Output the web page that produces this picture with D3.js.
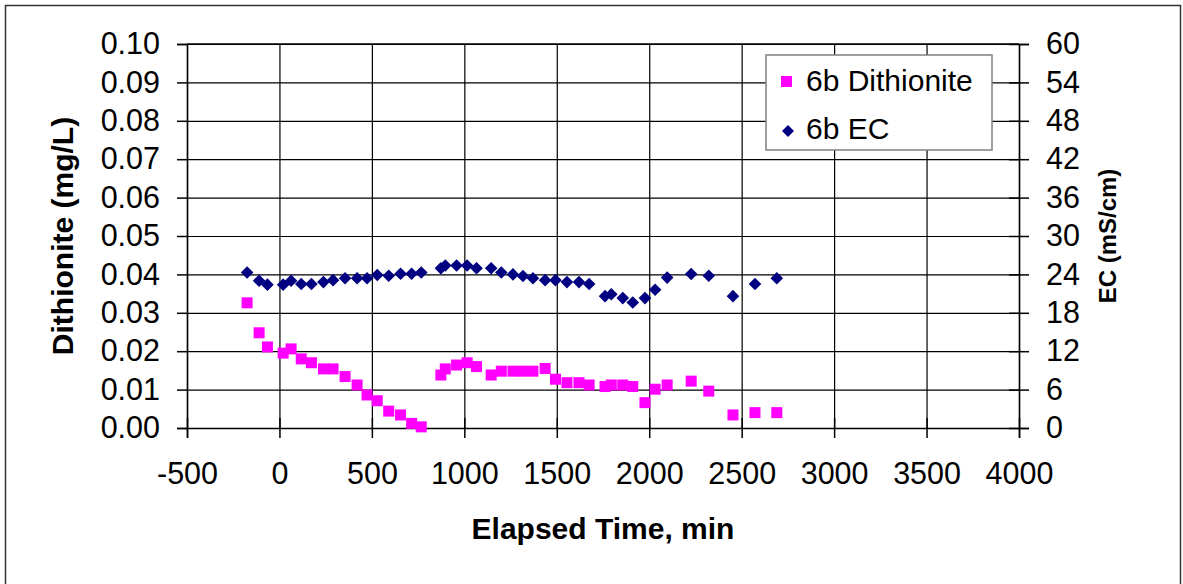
<!DOCTYPE html>
<html lang="en">
<head>
    <meta charset="UTF-8">
    <title>6b Dithionite and EC</title>
    <script src="https://d3js.org/d3.v7.min.js"></script>
    <style>
        body {
            margin: 0;
            background: white;
            font-family: "Liberation Sans", Arial, sans-serif;
        }
        .grid line {
            stroke: black;
            stroke-width: 1.2;
        }
        .axis path, .axis line {
            stroke: black;
            stroke-width: 1.5;
        }
        .axis text {
            font-size: 30.5px;
            fill: black;
        }
    </style>
</head>
<body>
    <svg id="chart"></svg>

    <script>
        // data
        const elapsedMin = [-175, -110, -65, 20, 63, 118, 173, 238, 290, 355, 420, 474, 529, 591, 655, 715, 767,
                            873, 897, 958, 1015, 1066, 1145, 1200, 1263, 1317, 1371, 1437, 1493, 1555, 1620, 1675,
                            1761, 1795, 1857, 1911, 1977, 2032, 2097, 2227, 2322, 2453, 2572, 2690];
        const dithionite = [0.0326, 0.0248, 0.0211, 0.0195, 0.0206, 0.018, 0.017, 0.0154, 0.0154, 0.0134, 0.0112,
                            0.0086, 0.0071, 0.0044, 0.0034, 0.0012, 0.0003,
                            0.0138, 0.0154, 0.0164, 0.017, 0.016, 0.0138, 0.0148, 0.0148, 0.0148, 0.0148, 0.0155,
                            0.0127, 0.0118, 0.0118, 0.0112, 0.0108, 0.0112, 0.0112, 0.0108, 0.0066, 0.0101, 0.0112,
                            0.0122, 0.0096, 0.0034, 0.004, 0.004];
        const ec = [24.3, 23.0, 22.4, 22.4, 23.0, 22.5, 22.5, 22.8, 23.1, 23.4, 23.4, 23.4, 23.9, 23.8, 24.1, 24.1, 24.3,
                    24.95, 25.4, 25.4, 25.4, 24.95, 24.95, 24.3, 24.0, 23.75, 23.4, 23.1, 23.1, 22.8, 22.8, 22.5,
                    20.6, 20.9, 20.3, 19.6, 20.3, 21.6, 23.5, 24.06, 23.8, 20.6, 22.5, 23.4];
        const xTicks = d3.range(-500, 4001, 500);
        const leftTicks = d3.range(0, 0.1001, 0.01);
        const rightTicks = d3.range(0, 61, 6);
        const seriesNames = ["6b Dithionite", "6b EC"];

        const width = 1183;
        const height = 584;
        const plot = { left: 187, right: 1019, top: 44, bottom: 428 };
        const magenta = "#ff00ff";
        const navy = "#000080";

        const svg = d3.select("#chart")
                      .attr("width", width)
                      .attr("height", height);

        // outer chart border
        svg.append("rect")
           .attr("x", 5.5).attr("y", 5.5)
           .attr("width", 1175).attr("height", 590)
           .attr("fill", "white")
           .attr("stroke", "#333")
           .attr("stroke-width", 1.5);

        // scales
        const x = d3.scaleLinear().domain([-500, 4000]).range([plot.left, plot.right]);
        const yLeft = d3.scaleLinear().domain([0, 0.1]).range([plot.bottom, plot.top]);
        const yRight = d3.scaleLinear().domain([0, 60]).range([plot.bottom, plot.top]);

        // gridlines
        svg.append("g")
           .attr("class", "grid")
           .attr("transform", `translate(0, ${plot.bottom})`)
           .call(d3.axisBottom(x).tickValues(xTicks).tickSize(-(plot.bottom - plot.top)).tickFormat(""))
           .call(g => g.select(".domain").remove());

        svg.append("g")
           .attr("class", "grid")
           .attr("transform", `translate(${plot.left}, 0)`)
           .call(d3.axisLeft(yLeft).tickValues(leftTicks).tickSize(-(plot.right - plot.left)).tickFormat(""))
           .call(g => g.select(".domain").remove());

        // axes (plain hyphen for negatives, like the original)
        const xAxis = svg.append("g")
           .attr("class", "axis")
           .attr("transform", `translate(0, ${plot.bottom})`)
           .call(d3.axisBottom(x).tickValues(xTicks).tickSize(10).tickPadding(24).tickFormat(d => String(d)));
        xAxis.selectAll(".tick line").attr("y1", -10);

        svg.append("g")
           .attr("class", "axis")
           .attr("transform", `translate(${plot.left}, 0)`)
           .call(d3.axisLeft(yLeft).tickValues(leftTicks).tickSize(10).tickPadding(17).tickFormat(d3.format(".2f")));

        const rAxis = svg.append("g")
           .attr("class", "axis")
           .attr("transform", `translate(${plot.right}, 0)`)
           .call(d3.axisRight(yRight).tickValues(rightTicks).tickSize(10).tickPadding(17));
        rAxis.selectAll(".tick line").attr("x1", -10);

        // top border of plot area
        svg.append("line")
           .attr("x1", plot.left).attr("x2", plot.right)
           .attr("y1", plot.top).attr("y2", plot.top)
           .attr("stroke", "black").attr("stroke-width", 1.5);

        // axis titles
        svg.append("text")
           .attr("x", (plot.left + plot.right) / 2)
           .attr("y", 539)
           .attr("text-anchor", "middle")
           .style("font-size", "30px")
           .style("font-weight", "bold")
           .text("Elapsed Time, min");

        svg.append("text")
           .attr("transform", `translate(73, ${(plot.top + plot.bottom) / 2}) rotate(-90)`)
           .attr("text-anchor", "middle")
           .style("font-size", "30px")
           .style("font-weight", "bold")
           .text("Dithionite (mg/L)");

        svg.append("text")
           .attr("transform", `translate(1116, ${(plot.top + plot.bottom) / 2}) rotate(-90)`)
           .attr("text-anchor", "middle")
           .style("font-size", "24px")
           .style("font-weight", "bold")
           .text("EC (mS/cm)");

        // points
        const diamond = s => `M0,${-s}L${s},0L0,${s}L${-s},0Z`;
        const rows = elapsedMin.map((t, i) => ({ t: t, d: dithionite[i], ec: ec[i] }));

        svg.append("g")
           .selectAll("path")
           .data(rows)
           .enter()
           .append("path")
           .attr("d", diamond(6.3))
           .attr("transform", d => `translate(${x(d.t)}, ${yRight(d.ec)})`)
           .attr("fill", navy);

        svg.append("g")
           .selectAll("rect")
           .data(rows)
           .enter()
           .append("rect")
           .attr("x", d => x(d.t) - 5.5)
           .attr("y", d => yLeft(d.d) - 5.5)
           .attr("width", 11)
           .attr("height", 11)
           .attr("fill", magenta);

        // legend
        const legend = svg.append("g").attr("transform", "translate(766, 55)");
        legend.append("rect")
              .attr("width", 226).attr("height", 95)
              .attr("fill", "white")
              .attr("stroke", "#808080")
              .attr("stroke-width", 1.5);
        legend.append("rect")
              .attr("x", 15).attr("y", 21)
              .attr("width", 11).attr("height", 11)
              .attr("fill", magenta);
        legend.append("path")
              .attr("d", diamond(6))
              .attr("transform", "translate(22, 76)")
              .attr("fill", navy);
        legend.selectAll("text")
              .data(seriesNames)
              .enter()
              .append("text")
              .attr("x", 40)
              .attr("y", (d, i) => 36 + i * 48)
              .style("font-size", "30px")
              .text(d => d);
    </script>
</body>
</html>
